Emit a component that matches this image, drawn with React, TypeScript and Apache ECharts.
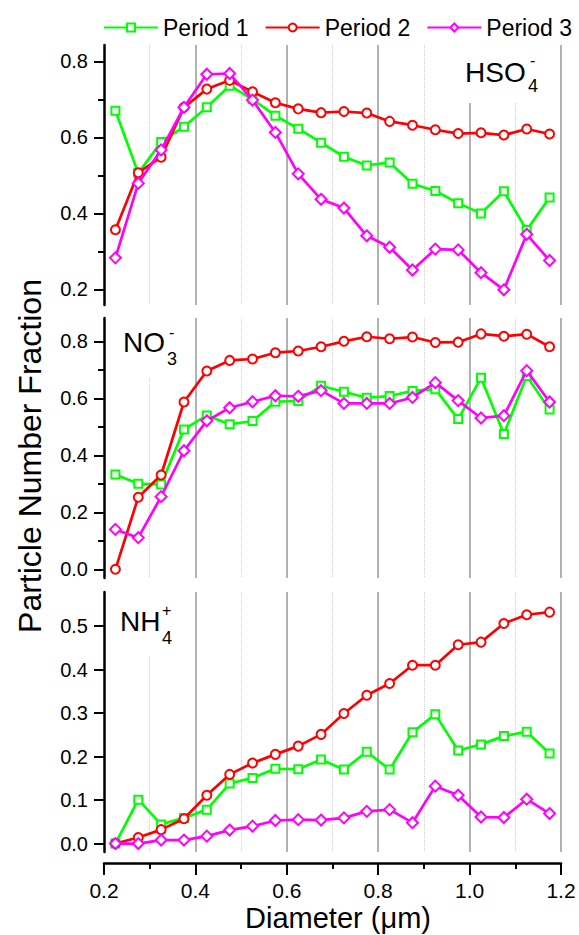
import React, { useEffect, useRef } from 'react';
import * as echarts from 'echarts';

const diameters = [0.225, 0.275, 0.325, 0.375, 0.425, 0.475, 0.525, 0.575, 0.625, 0.675, 0.725, 0.775, 0.825, 0.875, 0.925, 0.975, 1.025, 1.075, 1.125, 1.175];

const seriesNames = ['Period 1', 'Period 2', 'Period 3'];

const hso4P1 = [0.670, 0.506, 0.588, 0.628, 0.679, 0.736, 0.700, 0.657, 0.623, 0.586, 0.549, 0.526, 0.534, 0.478, 0.459, 0.427, 0.400, 0.458, 0.356, 0.442];
const hso4P2 = [0.357, 0.507, 0.548, 0.679, 0.727, 0.750, 0.720, 0.691, 0.675, 0.665, 0.668, 0.664, 0.642, 0.632, 0.620, 0.610, 0.612, 0.606, 0.622, 0.609];
const hso4P3 = [0.283, 0.479, 0.567, 0.679, 0.766, 0.768, 0.698, 0.613, 0.504, 0.437, 0.414, 0.341, 0.311, 0.251, 0.306, 0.304, 0.244, 0.199, 0.345, 0.276];

const no3P1 = [0.333, 0.300, 0.298, 0.491, 0.540, 0.509, 0.520, 0.588, 0.591, 0.644, 0.623, 0.602, 0.608, 0.626, 0.632, 0.527, 0.672, 0.475, 0.678, 0.561];
const no3P2 = [0.000, 0.253, 0.331, 0.587, 0.696, 0.733, 0.738, 0.760, 0.766, 0.781, 0.800, 0.816, 0.809, 0.815, 0.796, 0.797, 0.826, 0.818, 0.825, 0.781];
const no3P3 = [0.140, 0.111, 0.255, 0.416, 0.521, 0.567, 0.588, 0.609, 0.607, 0.627, 0.582, 0.582, 0.582, 0.603, 0.655, 0.592, 0.531, 0.539, 0.697, 0.587];

const nh4P1 = [0.000, 0.101, 0.044, 0.059, 0.078, 0.138, 0.151, 0.172, 0.171, 0.193, 0.170, 0.211, 0.170, 0.256, 0.297, 0.214, 0.228, 0.247, 0.257, 0.207];
const nh4P2 = [0.000, 0.014, 0.032, 0.057, 0.111, 0.159, 0.185, 0.205, 0.224, 0.251, 0.299, 0.341, 0.368, 0.410, 0.410, 0.457, 0.463, 0.506, 0.526, 0.532];
const nh4P3 = [0.000, 0.000, 0.008, 0.008, 0.017, 0.031, 0.040, 0.053, 0.055, 0.054, 0.059, 0.074, 0.078, 0.048, 0.132, 0.111, 0.061, 0.060, 0.102, 0.069];

const panelRanges = [
  { min: 0.159, max: 0.843, major: [0.2, 0.4, 0.6, 0.8], minor: [0.3, 0.5, 0.7] },
  { min: -0.0305, max: 0.8818, major: [0.0, 0.2, 0.4, 0.6, 0.8], minor: [0.1, 0.3, 0.5, 0.7] },
  { min: -0.0194, max: 0.5783, major: [0.0, 0.1, 0.2, 0.3, 0.4, 0.5], minor: [] as number[] },
];

const panelData = [
  [hso4P1, hso4P2, hso4P3],
  [no3P1, no3P2, no3P3],
  [nh4P1, nh4P2, nh4P3],
];

const colors = ['#00ff00', '#ff0000', '#ff00ff'];
const symbols = ['rect', 'circle', 'diamond'];
const symbolSizes = [8, 9, 11];

const FONT = 'Liberation Sans, Arial, Helvetica, sans-serif';

export default function App() {
  const ref = useRef<HTMLDivElement>(null);

  useEffect(() => {
    if (!ref.current) return;
    document.body.style.margin = '0';
    const chart = echarts.init(ref.current, undefined, { renderer: 'svg' });

    const gridTops = [45, 318, 592];
    const gridH = 260;
    const grids = gridTops.map((t) => ({ left: 104, top: t, width: 457, height: gridH }));

    const xAxes = [0, 1, 2].map((i) => ({
      type: 'value',
      gridIndex: i,
      min: 0.2,
      max: 1.2,
      interval: 0.2,
      offset: i === 2 ? 11 : 0,
      axisLine: { show: i === 2, onZero: false, lineStyle: { color: '#000', width: 2.5 } },
      axisTick: { show: i === 2, length: 12, lineStyle: { color: '#000', width: 2 } },
      minorTick: { show: i === 2, splitNumber: 2, length: 6, lineStyle: { color: '#000', width: 2 } },
      axisLabel: {
        show: i === 2,
        margin: 17,
        fontSize: 21,
        color: '#000',
        fontFamily: FONT,
        formatter: (v: number) => v.toFixed(1),
      },
      splitLine: { show: true, showMinLine: false, lineStyle: { color: '#999', width: 1.5 } },
      minorSplitLine: { show: true, lineStyle: { color: '#cfcfcf', width: 1, type: 'dotted' } },
    }));

    const yAxes: any[] = [];
    panelRanges.forEach((r, i) => {
      yAxes.push({
        type: 'value',
        gridIndex: i,
        position: 'left',
        min: r.min,
        max: r.max,
        axisLine: { show: true, onZero: false, lineStyle: { color: '#000', width: 2.5 } },
        axisTick: { show: true, length: 10, customValues: r.major, lineStyle: { color: '#000', width: 2 } },
        axisLabel: {
          show: true,
          customValues: r.major,
          margin: 16,
          fontSize: 20,
          color: '#000',
          fontFamily: FONT,
          formatter: (v: number) => v.toFixed(1),
        },
        splitLine: { show: false },
      });
    });
    panelRanges.forEach((r, i) => {
      yAxes.push({
        type: 'value',
        gridIndex: i,
        position: 'left',
        offset: 0,
        min: r.min,
        max: r.max,
        axisLine: { show: false },
        axisTick: { show: r.minor.length > 0, length: 6, customValues: r.minor.length ? r.minor : [r.min], lineStyle: { color: '#000', width: 2 } },
        axisLabel: { show: false },
        splitLine: { show: false },
      });
    });

    const series: any[] = [];
    panelData.forEach((panel, pi) => {
      panel.forEach((vals, si) => {
        series.push({
          name: seriesNames[si],
          type: 'line',
          xAxisIndex: pi,
          yAxisIndex: pi,
          data: diameters.map((d, k) => [d, vals[k]]),
          symbol: symbols[si],
          symbolSize: symbolSizes[si],
          showAllSymbol: true,
          lineStyle: { color: colors[si], width: 2.7 },
          itemStyle: { color: '#fff', borderColor: colors[si], borderWidth: 2 },
          z: 3 + si,
        });
      });
    });

    const txt = (text: string, x: number, y: number, size: number) => ({
      type: 'text',
      x,
      y,
      z: 60,
      style: { text, fontSize: size, fontFamily: FONT, fill: '#000', align: 'left', verticalAlign: 'middle' },
    });

    const graphic: any[] = [
      { type: 'rect', z: 50, shape: { x: 442, y: 44, width: 108, height: 59 }, style: { fill: '#fff' } },
      { type: 'rect', z: 50, shape: { x: 110, y: 317, width: 76, height: 60 }, style: { fill: '#fff' } },
      { type: 'rect', z: 50, shape: { x: 110, y: 591, width: 76, height: 64 }, style: { fill: '#fff' } },
      txt('HSO', 465, 72, 28),
      txt('4', 528, 86, 18),
      txt('-', 530, 60, 16),
      txt('NO', 123, 342, 28),
      txt('3', 167, 359, 18),
      txt('-', 169, 332, 16),
      txt('NH', 120, 621, 28),
      txt('4', 162, 638, 18),
      txt('+', 162, 610, 16),
      {
        type: 'text',
        x: 30,
        y: 456,
        rotation: Math.PI / 2,
        z: 60,
        style: { text: 'Particle Number Fraction', fontSize: 32, fontFamily: FONT, fill: '#000', align: 'center', verticalAlign: 'middle' },
      },
      {
        type: 'text',
        x: 338,
        y: 918,
        z: 60,
        style: { text: 'Diameter (\u03bcm)', fontSize: 29, fontFamily: FONT, fill: '#000', align: 'center', verticalAlign: 'middle' },
      },
    ];

    chart.setOption({
      animation: false,
      backgroundColor: '#fff',
      legend: {
        data: seriesNames,
        left: 98,
        top: 11,
        width: 520,
        itemWidth: 54,
        itemHeight: 10,
        itemGap: 16,
        textStyle: { fontSize: 23, color: '#000', fontFamily: FONT },
      },
      grid: grids,
      xAxis: xAxes,
      yAxis: yAxes,
      series,
      graphic,
    });

    return () => chart.dispose();
  }, []);

  return <div ref={ref} style={{ width: 579, height: 935 }} />;
}
